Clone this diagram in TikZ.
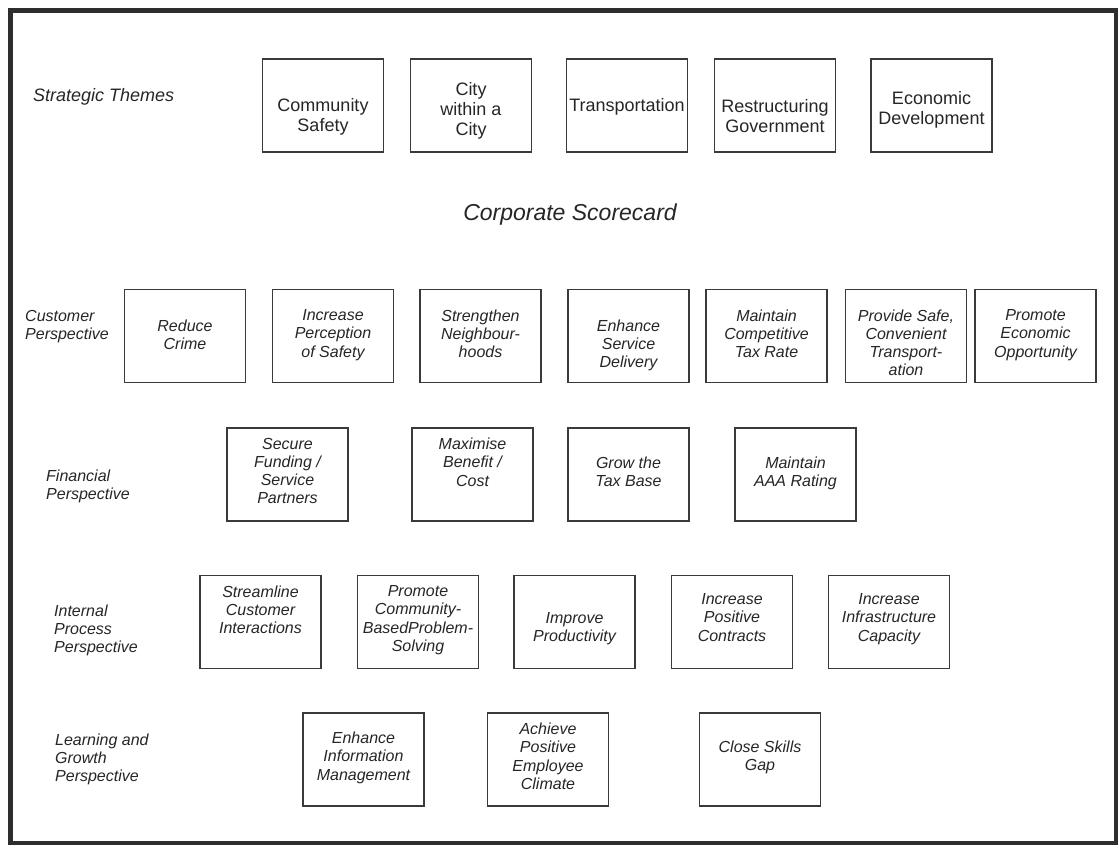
\documentclass[tikz,border=0pt]{standalone}
\usepackage{fontspec}
\setmainfont{Liberation Sans}
\definecolor{boxcol}{HTML}{3A3A3A}
\definecolor{txtcol}{HTML}{262626}
\definecolor{framecol}{HTML}{2E2E2E}
% upright text for the strategic themes (18pt)
\newcommand\sbt[2]{\parbox[c][93pt][t]{119pt}{\centering\fontsize{18}{20}\selectfont\vspace*{\dimexpr#1pt-12.9pt\relax}#2}}
% italic text for the scorecard objectives (16pt)
\newcommand\obt[2]{\parbox[c][93pt][t]{119pt}{\centering\fontsize{16}{18.3}\selectfont\itshape\vspace*{\dimexpr#1pt-11.6pt\relax}#2}}
\newcommand\lbt[1]{\parbox[t]{200pt}{\raggedright\fontsize{16}{18.3}\selectfont\itshape #1}}
\begin{document}
\begin{tikzpicture}[x=1pt,y=-1pt,
  box/.style={draw=boxcol, line width=1.4pt, inner sep=0pt, minimum width=121pt, minimum height=93pt, text=txtcol},
  lbl/.style={anchor=base west, inner sep=0pt, text=txtcol},
]
\useasboundingbox (0,0) rectangle (1119,847);
\fill[white] (0,0) rectangle (1119,847);
\draw[line width=4.5pt, color=framecol] (10.5,10.5) rectangle (1116,843);

% row labels
\node[lbl, font=\fontsize{18}{20}\selectfont\itshape] (lst) at (33,101.5) {Strategic Themes};
\node[anchor=center, inner sep=0pt, text=txtcol, font=\fontsize{23}{26}\selectfont\itshape] (corp) at (570,215) {Corporate Scorecard};
\node[lbl] (lcu) at (25,321) {\lbt{Customer\\Perspective}};
\node[lbl] (lfi) at (46,481) {\lbt{Financial\\Perspective}};
\node[lbl] (lin) at (54,616) {\lbt{Internal\\Process\\Perspective}};
\node[lbl] (lle) at (55,745) {\lbt{Learning and\\Growth\\Perspective}};

% strategic themes
\node[box] (st1) at (323,105.5) {\sbt{52}{Community\\Safety}};
\node[box] (st2) at (471,105.5) {\sbt{36}{City\\within a\\City}};
\node[box] (st3) at (627,105.5) {\sbt{52.5}{Transportation}};
\node[box] (st4) at (775,105.5) {\sbt{53}{Restructuring\\Government}};
\node[box] (st5) at (931.5,105.5) {\sbt{45}{Economic\\Development}};

% customer perspective
\node[box] (c1) at (185,336) {\obt{41.5}{Reduce\\Crime}};
\node[box] (c2) at (333,336) {\obt{31.5}{Increase\\Perception\\of Safety}};
\node[box] (c3) at (480.5,336) {\obt{31.5}{Strengthen\\Neighbour-\\hoods}};
\node[box] (c4) at (628.5,336) {\obt{41.5}{Enhance\\Service\\Delivery}};
\node[box] (c5) at (766.5,336) {\obt{31.5}{Maintain\\Competitive\\Tax Rate}};
\node[box] (c6) at (906,336) {\obt{31.5}{Provide Safe,\\Convenient\\Transport-\\ation}};
\node[box] (c7) at (1035.5,336) {\obt{31.5}{Promote\\Economic\\Opportunity}};

% financial perspective
\node[box] (f1) at (287.5,474.5) {\obt{21.5}{Secure\\Funding /\\Service\\Partners}};
\node[box] (f2) at (472.5,474.5) {\obt{21.5}{Maximise\\Benefit /\\Cost}};
\node[box] (f3) at (628.5,474.5) {\obt{40.5}{Grow the\\Tax Base}};
\node[box] (f4) at (795.5,474.5) {\obt{40.5}{Maintain\\AAA Rating}};

% internal process perspective
\node[box] (i1) at (260.5,622) {\obt{21.5}{Streamline\\Customer\\Interactions}};
\node[box] (i2) at (418,622) {\obt{21.5}{Promote\\Community-\\BasedProblem-\\Solving}};
\node[box] (i3) at (574.5,622) {\obt{48.5}{Improve\\Productivity}};
\node[box] (i4) at (732,622) {\obt{29.5}{Increase\\Positive\\Contracts}};
\node[box] (i5) at (889,622) {\obt{29.5}{Increase\\Infrastructure\\Capacity}};

% learning and growth perspective
\node[box] (l1) at (363.5,759.5) {\obt{30.5}{Enhance\\Information\\Management}};
\node[box] (l2) at (548,759.5) {\obt{21.5}{Achieve\\Positive\\Employee\\Climate}};
\node[box] (l3) at (760,759.5) {\obt{39.5}{Close Skills\\Gap}};
\end{tikzpicture}
\end{document}
